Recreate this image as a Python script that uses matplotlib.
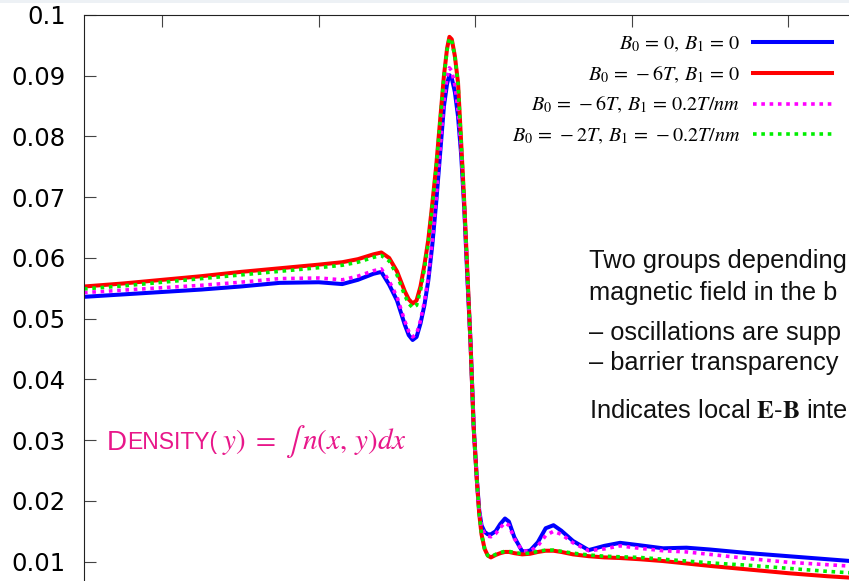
import numpy as np
import matplotlib
matplotlib.use("Agg")
import matplotlib.pyplot as plt
from matplotlib.patches import Rectangle

#--------config begin--------
color_all = ("#0000ff", "#ff0000", "#ff00ff", "#00ee00")
style_all = ("-", "-", (0, (1, 1.3)), (0, (1, 1.3)))
pink = "#e8178a"
#--------config end--------

# position across the structure (nm)
pos = [-50, -45, -40, -35, -30, -25, -20,
       -17, -15, -13, -12, -11, -10,
       -9, -8.5, -8, -7.5, -7, -6.5, -6,
       -5.5, -5, -4.5, -4, -3.6, -3.3, -3.0,
       -2.6, -2.2, -1.8, -1.4, -1.0, -0.6, -0.2,
       0.2, 0.5, 0.8, 1.2, 1.6, 2.0,
       2.6, 3.2, 3.8, 4.3, 5.0, 6.0,
       7, 8, 9, 10, 11,
       12.5, 14.5, 16.5, 18.5,
       21, 24, 27, 30,
       35, 40, 45, 50]

dens_b0 = [0.0536, 0.0540, 0.0544, 0.0548, 0.0553, 0.0559, 0.0560,
           0.0557, 0.0564, 0.0574, 0.0577, 0.0556, 0.0530,
           0.0490, 0.0473, 0.0465, 0.0470, 0.0492, 0.0522, 0.0563,
           0.0620, 0.0690, 0.0770, 0.0850, 0.0887, 0.0901, 0.0896,
           0.0873, 0.0833, 0.0770, 0.0680, 0.0565, 0.0460, 0.0322,
           0.0236, 0.0185, 0.0160, 0.0149, 0.0145, 0.0145,
           0.0150, 0.0162, 0.0171, 0.0166, 0.0140, 0.0117,
           0.0118, 0.0132, 0.0155, 0.0160, 0.0151,
           0.0134, 0.0119, 0.0126, 0.0131,
           0.0127, 0.0122, 0.0123, 0.0120,
           0.0114, 0.0109, 0.0104, 0.0099]

dens_m6 = [0.0553, 0.0558, 0.0564, 0.0570, 0.0577, 0.0583, 0.0589,
           0.0593, 0.0598, 0.0606, 0.0609, 0.0600, 0.0578,
           0.0545, 0.0532, 0.0525, 0.0530, 0.0553, 0.0588, 0.0630,
           0.0688, 0.0750, 0.0825, 0.0900, 0.0945, 0.0964, 0.0960,
           0.0932, 0.0888, 0.0790, 0.0690, 0.0575, 0.0458, 0.0320,
           0.0235, 0.0180, 0.0145, 0.0121, 0.0110, 0.0107,
           0.0111, 0.0114, 0.0116, 0.0116, 0.0114, 0.0112,
           0.0113, 0.0116, 0.0118, 0.0118, 0.0116,
           0.0112, 0.0109, 0.0107, 0.0106,
           0.0104, 0.0101, 0.0097, 0.0093,
           0.0087, 0.0081, 0.0076, 0.0072]

dens_m6_grad = [0.0543, 0.0547, 0.0551, 0.0555, 0.0560, 0.0566, 0.0567,
                0.0564, 0.0570, 0.0579, 0.0582, 0.0562, 0.0536,
                0.0496, 0.0479, 0.0470, 0.0475, 0.0497, 0.0528, 0.0568,
                0.0626, 0.0696, 0.0777, 0.0858, 0.0898, 0.0913, 0.0908,
                0.0884, 0.0842, 0.0778, 0.0685, 0.0568, 0.0460, 0.0322,
                0.0236, 0.0184, 0.0158, 0.0146, 0.0142, 0.0141,
                0.0146, 0.0156, 0.0164, 0.0160, 0.0138, 0.0118,
                0.0117, 0.0126, 0.0143, 0.0150, 0.0145,
                0.0131, 0.0118, 0.0121, 0.0126,
                0.0122, 0.0118, 0.0116, 0.0112,
                0.0105, 0.0099, 0.0095, 0.0091]

dens_m2_grad = [0.0549, 0.0554, 0.0560, 0.0566, 0.0572, 0.0578, 0.0584,
                0.0588, 0.0593, 0.0601, 0.0604, 0.0595, 0.0572,
                0.0538, 0.0525, 0.0518, 0.0522, 0.0546, 0.0582, 0.0625,
                0.0684, 0.0747, 0.0823, 0.0898, 0.0943, 0.0962, 0.0958,
                0.0931, 0.0887, 0.0790, 0.0690, 0.0575, 0.0458, 0.0320,
                0.0235, 0.0180, 0.0145, 0.0121, 0.0110, 0.0108,
                0.0112, 0.0115, 0.0117, 0.0117, 0.0115, 0.0113,
                0.0114, 0.0117, 0.0119, 0.0119, 0.0117,
                0.0114, 0.0111, 0.0109, 0.0108,
                0.0107, 0.0104, 0.0101, 0.0098,
                0.0094, 0.0089, 0.0084, 0.0080]

labels = [r"$B_0\,=\,0,\,B_1\,=\,0$",
          r"$B_0\,=\,-6T,\,B_1\,=\,0$",
          r"$B_0\,=\,-6T,\,B_1\,=\,0.2T/nm$",
          r"$B_0\,=\,-2T,\,B_1\,=\,-0.2T/nm$"]
widths = (2.9, 2.9, 2.6, 2.6)

yticks = [0.01, 0.02, 0.03, 0.04, 0.05, 0.06, 0.07, 0.08, 0.09, 0.1]
xticks = [-40, -20, 0, 20, 40]

# only the part of the notes that shows inside the picture
notes = ["Two groups depending",
         "magnetic field in the b",
         "\u2013 oscillations are supp",
         "\u2013 barrier transparency",
         r"Indicates local $\mathbf{E}$-$\mathbf{B}$ inte"]
note_base = [267.7, 300, 340, 370, 418]


plt.rcParams["mathtext.fontset"] = "stix"

W, H = 849, 581
fig = plt.figure(figsize=(W / 100, H / 100), dpi=100)
# axes box runs off the bottom and right edges of the picture
ax = fig.add_axes([84 / W, 1 - 15 / H - 607.4 / H, 782.5 / W, 607.4 / H])

curves = (dens_b0, dens_m6, dens_m6_grad, dens_m2_grad)
for dens, color, ls, lw, lab in zip(curves, color_all, style_all, widths, labels):
  ax.plot(pos, dens, color=color, linestyle=ls, lw=lw, label=lab)

ax.set_xlim(-50, 50)
ax.set_ylim(0, 0.1)
ax.set_xticks(xticks)
ax.set_yticks(yticks)
ax.set_yticklabels(["%g" % v for v in yticks])
ax.tick_params(axis="both", direction="in", length=8.6, width=0.8, color="#444444",
               top=True, right=True, labelsize=17.5, pad=13)
ax.tick_params(axis="x", labelbottom=False)
for s in ax.spines.values():
  s.set_linewidth(0.8)
  s.set_color("#222222")

leg = ax.legend(loc="upper right", bbox_to_anchor=(832 / W, 1 - 34 / H),
                bbox_transform=fig.transFigure, frameon=False, fontsize=14.5,
                markerfirst=False, alignment="right", borderpad=0, borderaxespad=0,
                handlelength=3.9, handletextpad=0.65, labelspacing=0.52)

# annotation block on the right
for txt, yb in zip(notes, note_base):
  fig.text(589 / W, 1 - yb / H, txt, fontsize=18.3, family="Liberation Sans",
           va="baseline", ha="left", color="#111111")

# DENSITY(y) label, small caps built from pieces
yb = 1 - 449.5 / H
t1 = fig.text(107 / W, yb, "D", fontsize=20, family="Liberation Sans",
              color=pink, va="baseline")
t2 = ax.annotate("ENSITY(", xy=(1, yb), xycoords=(t1, "figure fraction"),
                 fontsize=16.5, family="Liberation Sans", color=pink, va="baseline")
ax.annotate(r"$\;y)\;=\;\int\,n(x,\,y)dx$", xy=(1, yb), xycoords=(t2, "figure fraction"),
            fontsize=21, color=pink, va="baseline")

fig.add_artist(Rectangle((0, 1 - 3 / H), 1, 3 / H, transform=fig.transFigure,
                         color="#edf1f5", lw=0))

plt.savefig("out.png", dpi=100)
